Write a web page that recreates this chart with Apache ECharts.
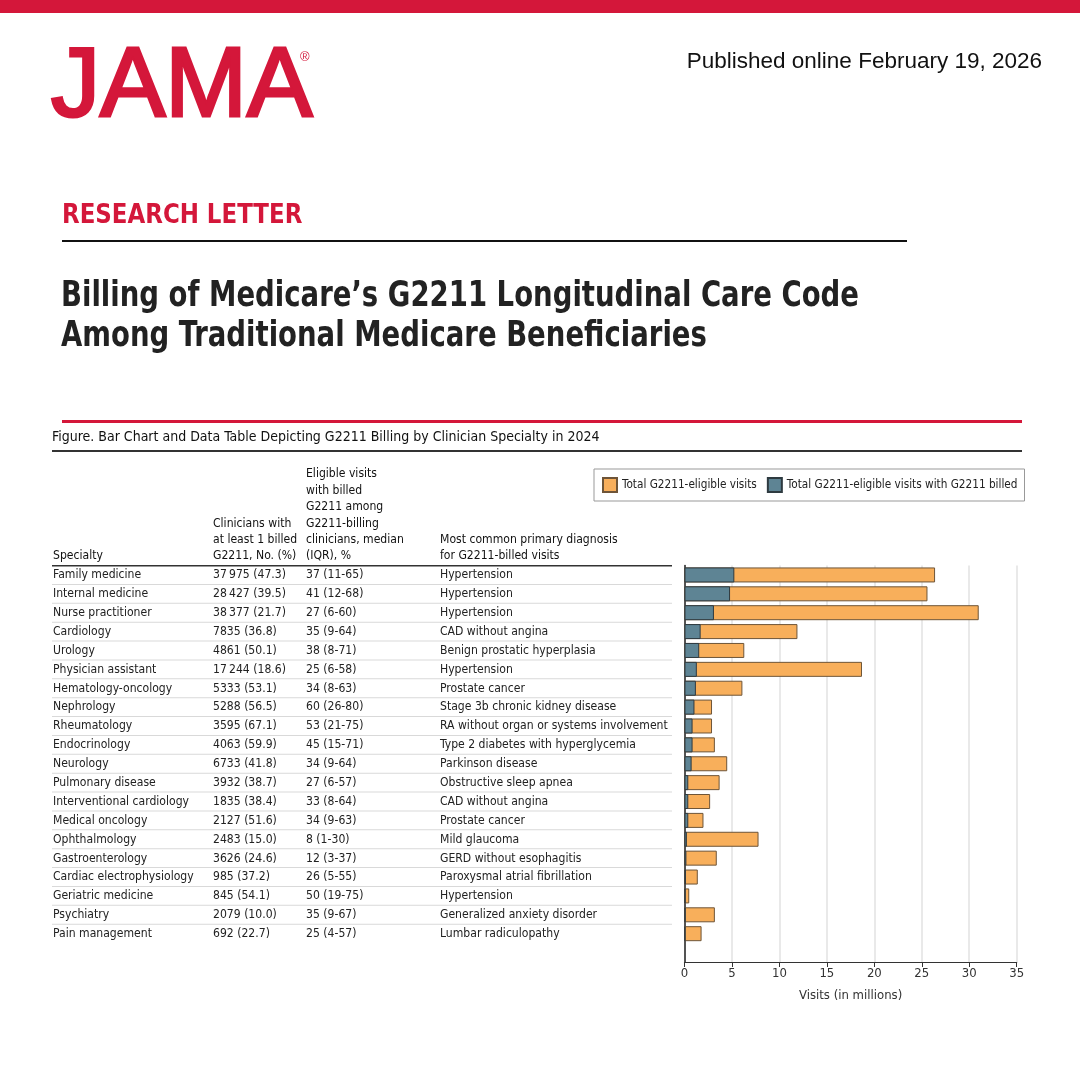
<!DOCTYPE html>
<html>
<head>
<meta charset="utf-8">
<script src="https://cdn.jsdelivr.net/npm/echarts@6/dist/echarts.min.js"></script>
<style>html,body{margin:0;padding:0;background:#fff}#c{width:1080px;height:1080px}</style>
</head>
<body>
<div id="c"></div>
<script>
// ---------- data ----------
const specialties = ['Family medicine','Internal medicine','Nurse practitioner','Cardiology','Urology','Physician assistant','Hematology-oncology','Nephrology','Rheumatology','Endocrinology','Neurology','Pulmonary disease','Interventional cardiology','Medical oncology','Ophthalmology','Gastroenterology','Cardiac electrophysiology','Geriatric medicine','Psychiatry','Pain management'];
const clinicians = ['37\u2009975 (47.3)','28\u2009427 (39.5)','38\u2009377 (21.7)','7835 (36.8)','4861 (50.1)','17\u2009244 (18.6)','5333 (53.1)','5288 (56.5)','3595 (67.1)','4063 (59.9)','6733 (41.8)','3932 (38.7)','1835 (38.4)','2127 (51.6)','2483 (15.0)','3626 (24.6)','985 (37.2)','845 (54.1)','2079 (10.0)','692 (22.7)'];
const medians = ['37 (11-65)','41 (12-68)','27 (6-60)','35 (9-64)','38 (8-71)','25 (6-58)','34 (8-63)','60 (26-80)','53 (21-75)','45 (15-71)','34 (9-64)','27 (6-57)','33 (8-64)','34 (9-63)','8 (1-30)','12 (3-37)','26 (5-55)','50 (19-75)','35 (9-67)','25 (4-57)'];
const diagnoses = ['Hypertension','Hypertension','Hypertension','CAD without angina','Benign prostatic hyperplasia','Hypertension','Prostate cancer','Stage 3b chronic kidney disease','RA without organ or systems involvement','Type 2 diabetes with hyperglycemia','Parkinson disease','Obstructive sleep apnea','CAD without angina','Prostate cancer','Mild glaucoma','GERD without esophagitis','Paroxysmal atrial fibrillation','Hypertension','Generalized anxiety disorder','Lumbar radiculopathy'];
// visits, millions
const totalVisits = [26.4, 25.6, 31.0, 11.9, 6.3, 18.7, 6.1, 2.9, 2.9, 3.2, 4.5, 3.7, 2.7, 2.0, 7.8, 3.4, 1.4, 0.5, 3.2, 1.8];
const billedVisits = [5.25, 4.8, 3.1, 1.7, 1.55, 1.3, 1.2, 1.05, 0.85, 0.85, 0.75, 0.4, 0.4, 0.4, 0.25, 0.2, 0.15, 0.12, 0.12, 0.1];
const xTicks = [0, 5, 10, 15, 20, 25, 30, 35];
const seriesNames = ['Total G2211-eligible visits', 'Total G2211-eligible visits with G2211 billed'];
const colHeaders = [
  ['Specialty'],
  ['Clinicians with', 'at least 1 billed', 'G2211, No. (%)'],
  ['Eligible visits', 'with billed', 'G2211 among', 'G2211-billing', 'clinicians, median', '(IQR), %'],
  ['Most common primary diagnosis', 'for G2211-billed visits']
];

// ---------- fonts ----------
function hasFont(name) {
  const c = document.createElement('canvas').getContext('2d');
  const s = 'abcdefghijklmnopqrstuvwxyz ABCDEFGHIJ 0123456789';
  c.font = '40px monospace'; const w1 = c.measureText(s).width;
  c.font = '40px "' + name + '", monospace'; const w2 = c.measureText(s).width;
  return Math.abs(w1 - w2) > 0.5;
}
const COND = ['Liberation Sans Narrow', 'DejaVu Sans Condensed', 'Open Sans Condensed', 'Roboto Condensed', 'Noto Sans', 'Open Sans'].find(hasFont) || 'sans-serif';
const CF = '"' + COND + '", sans-serif';
const HF = '"Liberation Sans", Arial, sans-serif';
const RED = '#D4173A';

const chart = echarts.init(document.getElementById('c'), null, {renderer: 'canvas', width: 1080, height: 1080});

chart.setOption({
  backgroundColor: '#fff',
  animation: false,
  textStyle: {fontFamily: CF},
  legend: {
    left: 594, top: 469,
    itemWidth: 14, itemHeight: 14, itemGap: 10,
    padding: [8, 7, 8, 8],
    borderColor: '#999', borderWidth: 1,
    icon: 'rect',
    textStyle: {fontFamily: CF, fontSize: 11.7, color: '#222'},
    data: seriesNames
  },
  grid: {left: 684.5, right: 63.3, top: 565.5, bottom: 118, containLabel: false},
  xAxis: {
    type: 'value', min: xTicks[0], max: xTicks[xTicks.length - 1], interval: 5,
    axisLine: {show: true, lineStyle: {color: '#333', width: 1.2}},
    axisTick: {show: true, length: 5, lineStyle: {color: '#333'}},
    splitLine: {show: true, lineStyle: {color: '#e2e2e2', width: 1.5}},
    axisLabel: {color: '#333', fontSize: 13, fontFamily: CF, margin: 5},
    name: 'Visits (in millions)', nameLocation: 'middle', nameGap: 27,
    nameTextStyle: {color: '#333', fontSize: 13, fontFamily: CF}
  },
  yAxis: {
    type: 'category', inverse: true, data: specialties.concat(['']),
    axisLine: {show: true, lineStyle: {color: '#222', width: 1.5}},
    axisTick: {show: false}, axisLabel: {show: false}, splitLine: {show: false}
  },
  series: [
    {name: seriesNames[0], type: 'bar', data: totalVisits, barWidth: 15, barGap: '-100%',
     itemStyle: {color: '#F8AF5B', borderColor: '#6e5538', borderWidth: 1}},
    {name: seriesNames[1], type: 'bar', data: billedVisits, barWidth: 15,
     itemStyle: {color: '#5E8494', borderColor: '#2e3a40', borderWidth: 1}}
  ]
});

// ---------- page furniture + table (graphic) ----------
const g = [];
function txt(text, x, y, font, fill, align, sx) {
  g.push({type: 'text', silent: true, x: x, y: y, scaleX: sx || 1,
    style: {text: text, x: 0, y: 0, font: font, fill: fill, textAlign: align || 'left', textVerticalAlign: 'middle'}});
}
function rect(x, y, w, h, fill) {
  g.push({type: 'rect', silent: true, shape: {x: x, y: y, width: w, height: h}, style: {fill: fill}});
}
rect(0, 0, 1080, 13, RED);
g.push({type: 'text', silent: true, style: {text: 'JAMA', x: 51, y: 89, font: '98px ' + HF, fill: RED, stroke: RED, lineWidth: 3, textVerticalAlign: 'middle'}});
txt('\u00AE', 300, 57, '13px ' + HF, RED);
txt('Published online February 19, 2026', 1042, 62, '22.5px ' + HF, '#111', 'right');
txt('RESEARCH LETTER', 62, 216, 'bold 26px ' + CF, RED, 'left', 0.98);
rect(62, 240, 845, 2, '#111');
txt('Billing of Medicare\u2019s G2211 Longitudinal Care Code', 61, 297, 'bold 36px ' + CF, '#222', 'left', 0.85);
txt('Among Traditional Medicare Beneficiaries', 61, 337, 'bold 36px ' + CF, '#222', 'left', 0.85);
rect(62, 420, 960, 3, RED);
txt('Figure. Bar Chart and Data Table Depicting G2211 Billing by Clinician Specialty in 2024', 52, 437, '14px ' + CF, '#111');
rect(52, 450, 970, 2, '#333');

const colX = [53, 213, 306, 440];
const TF = '13px ' + CF;
const TS = 0.93;
colHeaders.forEach(function (lines, c) {
  const n = lines.length;
  lines.forEach(function (s, k) { txt(s, colX[c], 556 - (n - 1 - k) * 16.4, TF, '#111', 'left', TS); });
});
rect(52, 565, 620, 1.5, '#333');

const y0 = chart.convertToPixel({yAxisIndex: 0}, specialties[0]);
const y1 = chart.convertToPixel({yAxisIndex: 0}, specialties[1]);
const band = y1 - y0;
specialties.forEach(function (s, i) {
  const y = chart.convertToPixel({yAxisIndex: 0}, s);
  const cols = [s, clinicians[i], medians[i], diagnoses[i]];
  cols.forEach(function (t, c) { txt(t, colX[c], y, TF, '#222', 'left', TS); });
  if (i < specialties.length - 1) rect(52, y + band / 2 - 0.5, 620, 1, '#d9d9d9');
});

chart.setOption({graphic: {elements: g}});
</script>
</body>
</html>
